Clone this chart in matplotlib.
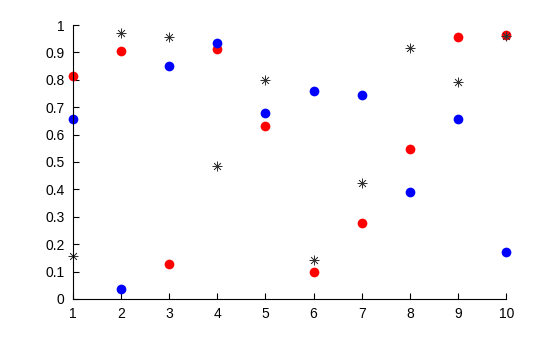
import matplotlib
matplotlib.use("Agg")
import matplotlib.pyplot as plt

x = list(range(1, 11))
red_vals = [0.8147, 0.9058, 0.1270, 0.9134, 0.6324, 0.0975, 0.2785, 0.5469, 0.9575, 0.9649]
blue_vals = [0.6557, 0.0357, 0.8491, 0.9340, 0.6787, 0.7577, 0.7431, 0.3922, 0.6555, 0.1712]
star_vals = [0.1576, 0.9706, 0.9572, 0.4854, 0.8003, 0.1419, 0.4218, 0.9157, 0.7922, 0.9595]
y_ticks = [0, 0.1, 0.2, 0.3, 0.4, 0.5, 0.6, 0.7, 0.8, 0.9, 1]
y_labels = ["0", "0.1", "0.2", "0.3", "0.4", "0.5", "0.6", "0.7", "0.8", "0.9", "1"]

plt.rcParams["font.family"] = ["Liberation Sans", "DejaVu Sans"]

fig = plt.figure(figsize=(5.6, 3.37), dpi=100)
ax = fig.add_axes([0.130, 0.1128, 0.774, 0.8130])

ax.plot(x, red_vals, "o", color="red", markersize=7, markeredgewidth=0, clip_on=False)
ax.plot(x, blue_vals, "o", color="blue", markersize=7, markeredgewidth=0, clip_on=False)
# MATLAB-style asterisk: plus and cross overlaid
ax.plot(x, star_vals, linestyle="none", marker=(8, 2, 0), color="#333333",
        markersize=7, markeredgewidth=0.5, clip_on=False)

ax.set_xlim(1, 10)
ax.set_ylim(0, 1)
ax.set_xticks(x)
ax.set_yticks(y_ticks)
ax.set_yticklabels(y_labels)
ax.spines["top"].set_visible(False)
ax.spines["right"].set_visible(False)
ax.tick_params(direction="in", length=4, width=0.8, labelsize=10, pad=6)

fig.savefig("out.png", dpi=100)
